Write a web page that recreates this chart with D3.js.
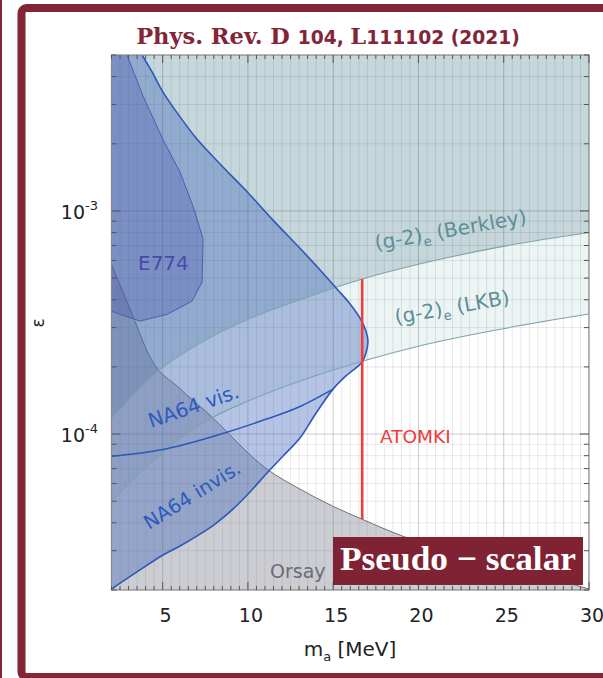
<!DOCTYPE html>
<html><head><meta charset="utf-8">
<script src="https://cdn.jsdelivr.net/npm/d3@7"></script>
<style>body{margin:0;background:#fff}svg{display:block}</style>
</head><body><svg id="chart" width="603" height="678"></svg>
<script>
// Axis ranges and tick labels
const massDomain = [2, 30];
const epsDomain = [2e-5, 5e-3];
const massTicks = [5, 10, 15, 20, 25, 30];
const epsTickDecades = [-4, -3];

// Exclusion boundaries as [m_a in MeV, epsilon]
const berkleyLine = [[2.0,1.17e-4],[4.85,1.95e-4],[7.6,2.66e-4],[10.14,3.3e-4],[13.06,4.0e-4],[16.7,4.95e-4],[19.93,5.75e-4],[24.8,6.9e-4],[30,8.0e-4]];
const lkbLine = [[2.0,5.0e-5],[4.85,8.1e-5],[7.6,1.15e-4],[10.14,1.42e-4],[13.06,1.73e-4],[16.7,2.12e-4],[19.93,2.47e-4],[24.8,2.95e-4],[30,3.45e-4]];
const orsayLine = [[2.0,5.77e-4],[3.26,3.37e-4],[4.26,2.21e-4],[6.0,1.6e-4],[7.6,1.25e-4],[11.13,6.95e-5],[13.06,5.66e-5],[15.0,4.74e-5],[16.7,4.15e-5],[19.1,3.48e-5],[24.2,2.72e-5],[30,2.02e-5]];
const na64Boundary = [
  [3.79,5.0e-3],[4.38,4.2e-3],[5.02,3.41e-3],[6.02,2.64e-3],[7.01,2.1e-3],[8.48,1.59e-3],[9.95,1.22e-3],
  [11.47,9.1e-4],[13.05,6.8e-4],[14.23,5.44e-4],[15.22,4.47e-4],[15.99,3.83e-4],[16.57,3.31e-4],[16.92,2.9e-4],
  [17.04,2.59e-4],[16.92,2.31e-4],[16.69,2.1e-4],[15.81,1.84e-4],[14.99,1.59e-4],[13.99,1.24e-4],[13.05,9.6e-5],
  [12.06,7.97e-5],[11.12,6.69e-5],[10.12,5.5e-5],[9.12,4.61e-5],[8.07,3.95e-5],[7.19,3.56e-5],[6.02,3.15e-5],
  [5.02,2.87e-5],[3.67,2.46e-5],[2.79,2.22e-5],[2.09,2.04e-5],[2.0,2.02e-5]
];
const na64VisLine = [[2.0,7.95e-5],[5.02,8.53e-5],[8.19,9.88e-5],[11.13,1.17e-4],[13.06,1.33e-4],[14.99,1.59e-4]];
const e774Boundary = [[2.91,5.0e-3],[3.85,3.27e-3],[5.02,2.09e-3],[6.02,1.49e-3],[6.78,1.05e-3],[7.37,7.5e-4],[7.31,4.8e-4],[6.72,3.94e-4],[5.26,3.44e-4],[3.67,3.21e-4],[2.0,3.55e-4]];
const atomkiMass = 16.7;
const atomkiEps = [4.15e-5, 4.95e-4];

const maroon = '#832537';
const P = {left: 111.5, right: 589, top: 55, bottom: 590};
const svg = d3.select('#chart');

const x = d3.scaleLinear().domain(massDomain).range([P.left, P.right]);
const y = d3.scaleLog().domain(epsDomain).range([P.bottom, P.top]);

// page frame
svg.append('rect').attr('x', 0).attr('y', 0).attr('width', 2).attr('height', 678).attr('fill', maroon);
svg.append('rect').attr('x', 21.5).attr('y', 8).attr('width', 640).attr('height', 669)
  .attr('rx', 5).attr('fill', '#fff').attr('stroke', maroon).attr('stroke-width', 8);

// title
const title = svg.append('text').attr('x', 328).attr('y', 44).attr('text-anchor', 'middle')
  .attr('fill', maroon).attr('font-weight', 'bold');
title.append('tspan').attr('font-family', 'DejaVu Serif').attr('font-size', 22.5).text('Phys. Rev. D ');
title.append('tspan').attr('font-family', 'DejaVu Sans').attr('font-size', 18.7).text('104, ');
title.append('tspan').attr('font-family', 'DejaVu Serif').attr('font-size', 22.5).text('L');
title.append('tspan').attr('font-family', 'DejaVu Sans').attr('font-size', 18.7).text('111102 (2021)');

svg.append('defs').append('clipPath').attr('id', 'plotClip').append('rect')
  .attr('x', P.left).attr('y', P.top).attr('width', P.right - P.left).attr('height', P.bottom - P.top);

const g = svg.append('g').attr('clip-path', 'url(#plotClip)');

const lineMono = d3.line().x(d => x(d[0])).y(d => y(d[1])).curve(d3.curveMonotoneX);
const areaAbove = d3.area().x(d => x(d[0])).y0(P.top).y1(d => y(d[1])).curve(d3.curveMonotoneX);
const areaBelow = d3.area().x(d => x(d[0])).y0(P.bottom).y1(d => y(d[1])).curve(d3.curveMonotoneX);
const lineSmooth = d3.line().x(d => x(d[0])).y(d => y(d[1])).curve(d3.curveCatmullRom.alpha(0.5));
const lineStraight = d3.line().x(d => x(d[0])).y(d => y(d[1]));

// (g-2)e regions
g.append('path').attr('d', areaAbove(lkbLine)).attr('fill', '#edf4f4');
g.append('path').attr('d', areaAbove(berkleyLine)).attr('fill', '#c6d7db');

// grid
const massGrid = d3.range(massDomain[0], massDomain[1] + 0.01, 0.5);
const epsGrid = [];
[-5, -4, -3].forEach(d => { for (let k = 1; k <= 9; k++) { const v = k * Math.pow(10, d); if (v >= epsDomain[0] * 0.999 && v <= epsDomain[1] * 1.001) epsGrid.push({v, major: k === 1}); } });
g.selectAll('.vg').data(massGrid).join('line')
  .attr('x1', d => x(d)).attr('x2', d => x(d)).attr('y1', P.top).attr('y2', P.bottom)
  .attr('stroke', d => d % 5 === 0 ? 'rgba(0,0,0,0.2)' : 'rgba(0,0,0,0.09)').attr('stroke-width', 1);
g.selectAll('.hg').data(epsGrid).join('line')
  .attr('y1', d => y(d.v)).attr('y2', d => y(d.v)).attr('x1', P.left).attr('x2', P.right)
  .attr('stroke', d => d.major ? 'rgba(0,0,0,0.2)' : 'rgba(0,0,0,0.09)').attr('stroke-width', 1);

// Orsay beam dump
g.append('path').attr('d', areaBelow(orsayLine)).attr('fill', 'rgba(100,100,120,0.33)');
g.append('path').attr('d', lineMono(orsayLine)).attr('fill', 'none').attr('stroke', '#707078').attr('stroke-width', 1);

// NA64 region (closed along the left edge of the plot)
const na64Path = lineSmooth(na64Boundary) + `L${x(1)},${y(1e-5)}L${x(1)},${y(1e-2)}L${x(na64Boundary[0][0])},${y(1e-2)}Z`;
g.append('path').attr('d', na64Path).attr('fill', 'rgba(60,100,185,0.38)');

// E774
const e774Path = lineStraight(e774Boundary) + `L${x(1)},${y(e774Boundary[e774Boundary.length-1][1])}L${x(1)},${y(1e-2)}L${x(e774Boundary[0][0])},${y(1e-2)}Z`;
g.append('path').attr('d', e774Path).attr('fill', 'rgba(70,80,170,0.3)');
g.append('path').attr('d', lineStraight(e774Boundary)).attr('fill', 'none').attr('stroke', '#5558b0').attr('stroke-width', 1);

// (g-2)e boundary lines
[berkleyLine, lkbLine].forEach(l => g.append('path').attr('d', lineMono(l)).attr('fill', 'none').attr('stroke', '#7fa3ab').attr('stroke-width', 1.1));

// NA64 curves
g.append('path').attr('d', lineSmooth(na64Boundary)).attr('fill', 'none').attr('stroke', '#2c58bb').attr('stroke-width', 1.6);
g.append('path').attr('d', lineMono(na64VisLine)).attr('fill', 'none').attr('stroke', '#2c58bb').attr('stroke-width', 1.6);

// ATOMKI mass
g.append('line').attr('x1', x(atomkiMass)).attr('x2', x(atomkiMass)).attr('y1', y(atomkiEps[0])).attr('y2', y(atomkiEps[1]))
  .attr('stroke', '#f03c3c').attr('stroke-width', 2.6);

// region labels
const lab = (txt, px, py, rot, color, size) => svg.append('text')
  .attr('transform', `translate(${px},${py}) rotate(${rot})`)
  .attr('font-family', 'DejaVu Sans').attr('font-size', size).attr('fill', color).text(txt);
lab('E774', 138, 270, 0, '#4a4aa6', 20);
lab('ATOMKI', 380, 443, 0, '#f03c3c', 18.5);
lab('Orsay', 270, 578, 0, '#6b6b78', 19);
lab('NA64 vis.', 151, 428, -19, '#2d5bbf', 20);
lab('NA64 invis.', 149, 530, -32, '#2d5bbf', 19.5);
const g2lab = (name, px, py) => {
  const t = svg.append('text').attr('transform', `translate(${px},${py}) rotate(-10)`)
    .attr('font-family', 'DejaVu Sans').attr('font-size', 20).attr('fill', '#5c8e98');
  t.append('tspan').text('(g-2)');
  t.append('tspan').attr('font-size', 13).attr('dy', 5).text('e');
  t.append('tspan').attr('dy', -5).text(' ' + name);
};
g2lab('(Berkley)', 376, 250);
g2lab('(LKB)', 396, 324);

// axes frame and ticks
const ax = svg.append('g').attr('stroke', '#555').attr('stroke-width', 1);
ax.append('rect').attr('x', P.left).attr('y', P.top).attr('width', P.right - P.left).attr('height', P.bottom - P.top)
  .attr('fill', 'none').attr('stroke', '#8a8a8a').attr('stroke-width', 1.2);
massGrid.forEach(m => {
  const len = m % 5 === 0 ? 8 : 4;
  ax.append('line').attr('x1', x(m)).attr('x2', x(m)).attr('y1', P.bottom).attr('y2', P.bottom - len);
  ax.append('line').attr('x1', x(m)).attr('x2', x(m)).attr('y1', P.top).attr('y2', P.top + len);
});
epsGrid.forEach(d => {
  const len = d.major ? 9 : 5;
  ax.append('line').attr('y1', y(d.v)).attr('y2', y(d.v)).attr('x1', P.left).attr('x2', P.left + len);
  ax.append('line').attr('y1', y(d.v)).attr('y2', y(d.v)).attr('x1', P.right).attr('x2', P.right - len);
});

// tick labels
svg.selectAll('.xt').data(massTicks).join('text')
  .attr('x', d => x(d) + 3).attr('y', 622).attr('text-anchor', 'middle')
  .attr('font-family', 'DejaVu Sans').attr('font-size', 19).attr('fill', '#222').text(d => d);
epsTickDecades.forEach(d => {
  const t = svg.append('text').attr('x', 98).attr('y', y(Math.pow(10, d)) + 8).attr('text-anchor', 'end')
    .attr('font-family', 'DejaVu Sans').attr('font-size', 19).attr('fill', '#222');
  t.append('tspan').text('10');
  t.append('tspan').attr('font-size', 13).attr('dy', -9).text(String(d));
});

// axis titles
const xt = svg.append('text').attr('x', 350).attr('y', 656).attr('text-anchor', 'middle')
  .attr('font-family', 'DejaVu Sans').attr('font-size', 20).attr('fill', '#222');
xt.append('tspan').text('m');
xt.append('tspan').attr('font-size', 13).attr('dy', 5).text('a');
xt.append('tspan').attr('dy', -5).text(' [MeV]');
svg.append('text').attr('transform', 'translate(44,323) rotate(-90)').attr('text-anchor', 'middle')
  .attr('font-family', 'DejaVu Sans').attr('font-size', 17).attr('fill', '#222').text('ε');

// model tag
svg.append('rect').attr('x', 333).attr('y', 537).attr('width', 250).attr('height', 48).attr('fill', '#7f2233');
svg.append('text').attr('x', 340).attr('y', 570).attr('textLength', 236).attr('lengthAdjust', 'spacingAndGlyphs')
  .attr('font-family', 'Liberation Serif').attr('font-weight', 'bold').attr('font-size', 34).attr('fill', '#fff')
  .text('Pseudo − scalar');
</script></body></html>
